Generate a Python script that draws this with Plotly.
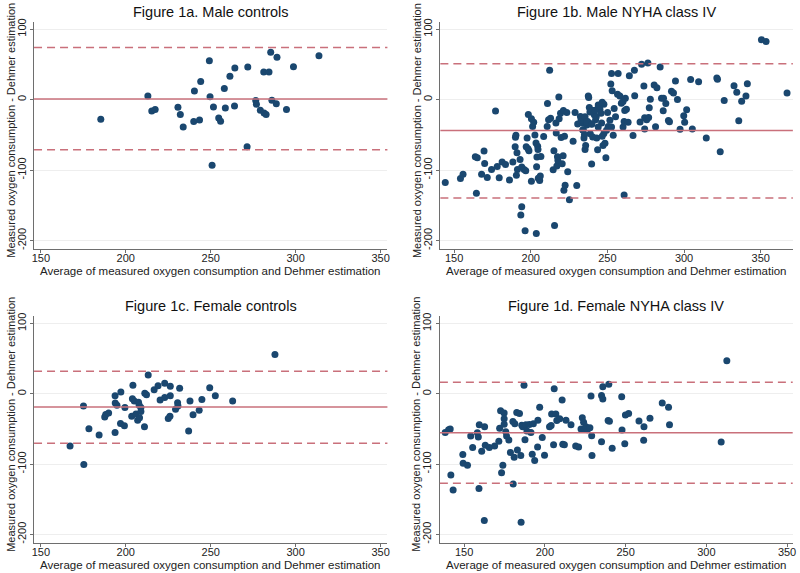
import plotly.graph_objects as go

# ---------------- data ----------------
panel_titles = ["Figure 1a. Male controls", "Figure 1b. Male NYHA class IV",
                "Figure 1c. Female controls", "Figure 1d. Female NYHA class IV"]
x_title = "Average of measured oxygen consumption and Dehmer estimation"
y_title = "Measured oxygen consumption - Dehmer estimation"
x_ticks = [150, 200, 250, 300, 350]
x_tick_labels = ["150", "200", "250", "300", "350"]
y_ticks = [-200, -100, 0, 100]
y_tick_labels = ["-200", "-100", "0", "100"]

# Figure 1a
a_x = [185.3, 213, 215.3, 217.3, 230.7, 232.1, 233.8, 240, 240.4, 243.4, 244.1, 249.2, 249.6,
       251.6, 250.8, 254.7, 255.8, 258, 258.6, 261.3, 264.2, 264, 271.4, 271.8, 276.5, 276.9,
       279.2, 281.4, 282.6, 281.2, 284.3, 285.3, 286, 288.6, 289, 294.6, 298.7, 313.7]
a_y = [-27.8, 5.2, -16, -14, -10.8, -21, -39, -31, 12.3, -29, 25.5, 55, 4.2,
       -10.4, -93, -26, -30.7, 15.6, -11.8, 33, 44.8, -9, -67, 46.2, -1.4, -6.6,
       -15, -19, -21, 39, 39, 67, -1, -6, 60, -14, 46.7, 62.3]
a_mean, a_upper, a_lower = 1, 74, -71

# Figure 1b
b_x = [144.2, 154.1, 155.8, 164.5, 163.8, 165.1, 169.5, 169.9, 167.9, 171.6, 174.4, 177, 178.1,
       179.4, 181.3, 183.5, 186.1, 188.3, 189.8, 190, 190.3, 191, 191.3, 190.6, 193, 194.1,
       193.5, 194.1, 195.6, 196.3, 196.7, 197.6, 197, 198.2, 198.8, 198.4, 200.4, 200.4, 201.2,
       201.9, 202.7, 203.4, 203.6, 203.8, 204, 204.5, 204.7, 204.9, 205.8, 206.2, 206.6, 208.4,
       210.9, 212.3, 212.9, 211.6, 210.7, 215.1, 214.6, 215.5, 216.4, 216.6, 217, 217.4, 217.7,
       218.3, 218.5, 219.4, 219.8, 220.5, 221.1, 221.3, 222, 221.6, 222.4, 223.5, 224.1, 225.2,
       227.6, 228.9, 230, 230.6, 232.4, 233.9, 234.3, 234.7, 235.4, 235.8, 236.5, 237.1, 237.5,
       238.2, 238.8, 239.7, 239.9, 240.4, 241.4, 242.3, 243, 243.6, 244, 245.1, 245.8, 246.2,
       246.6, 247.1, 247.7, 249, 250.1, 250.5,
       232.8, 233.9, 235, 235.4, 236.5, 237.8, 238.6, 239.7, 240.4, 241.9, 242.7, 244, 244.9,
       246.6, 247.7, 248.4, 249.4, 251.6, 252.7, 253.8, 254.4, 255.3,
       252.2, 253.1, 252.7, 257, 256.6, 258.1, 259.1, 260.2, 261.7, 261.3, 262.4, 260.9, 260.2,
       263.5, 266.7, 260.9, 264.3, 267.6, 267.8, 272.3, 276.4, 273.8, 271.3, 274.3, 274.3, 275.6,
       276.9, 277.3, 278, 280.5, 282.3, 281.4, 284.4, 285.3, 286.6, 286.4, 288.1, 289.8, 290.5,
       291.8, 293.1, 294.4, 295.7, 297.4, 299.8, 300.4, 301.7, 304.3, 305.4, 309.5, 314.5, 321.4,
       321.8, 323.6, 326.2, 332.6, 334.4, 335.7, 337.6, 340.4, 341.3, 350.5, 353.5, 367.2]
b_y = [-117.7, -112, -106, -133, -81, -82.5, -73, -90.5, -106, -110.6, -99, -16, -95,
       -111, -88.6, -92, -114, -88.6, -67, -53.4, -50.6, -75.5, -99, -107.4, -84.9, -152,
       -163.6, -95.6, -99, -186, -101, -54.4, -67, -69.9, -72.7, -21, -115.8, -27.2, -38,
       -32.3, -50.2, -61.4, -189.9, -95.2, -81.6, -66.1, -70.8, -111.6, -114.9, -108.3, -80.6, -52.5,
       -5.6, 41.7, -26.3, -28.6, -38, -72.7, -99.4, -178.6, -33.3, -47.4, -94.2, -81.1, -86.3,
       3.8, -27.2, -19.2, -53.9, -90.9, -79.7, -15.5, -52, -128.5, -121.4, -18.3, -102.2, -142,
       -59, -18.3, -121.9, -34.7, -23.9, -33.3, -42.7, -54.4, -70.8, -65.2, -36.1, -30.9, 5.2,
       -11.3, -48.3, -91.4, -34.2, -15.5, -21.6, -28.6, -54.4, -71.3, -7.5, -13.6, -19.2, -33.3,
       -52, -65.2, -6.6, -82.5, -18.3, -38,
       -29, -43, -50, -24.5, -31.6, 2.8, -17.5, -35, -53, -15, -24.5, -38.7, -9,
       -3.8, -48, -62, -43.4, -29.2, -38.7, -50.5, -12.7, -24.5,
       22, 12.7, 37, 37, 7.5, 5.2, -5.2, -2.8, 1.9, -15.5, -13.6, -30.9, -38.9,
       -32.3, -51.1, -135.5, 33.8, 41.7, 5.6, 50.2, 52, 19.2, -31.9, -25.8, -41.7, -28.6,
       -25.3, -11.7, 0.5, 20.6, 16.9, -38.4, 46.4, 1.9, 1.9, -15.9, -5.6, -29.5, -31.4,
       11.7, 9.4, 26.3, 0, -42.2, -23, -32.3, -14.5, 28.6, -41.7, 25.3, -54.4, 30.5,
       29, -74.1, -1.4, 19.7, 10.3, -30, -2.3, 5.2, 22.5, 85, 82.5, 9.4]
b_mean, b_upper, b_lower = -44, 51, -139.5

# Figure 1c
c_x = [167.2, 175.1, 175.3, 178.3, 184.3, 187.6, 188.2, 189.9, 193.7, 193.8, 194.8, 193.7, 197.1,
       196.9, 199.2, 199.5, 204.2, 203.9, 205, 203.5, 206, 207, 207.5, 207.9, 208.9, 208.9, 208.1,
       211.2, 212.2, 211, 213.2, 216.7, 219, 220.2, 222.9, 222.9, 225, 226, 226.2, 226.2, 229.3,
       230.5, 230.7, 231.7, 237, 237.8, 239.6, 243.2, 244.8, 249.4, 252.7, 262.9, 287.8]
c_y = [-74.3, -17.4, -100.6, -49.8, -58.8, -33, -29.6, -27.3, -2.8, -13, -16.5, -55, 2.4,
       -42.3, -45.6, -19.7, 12.2, -7, -10.3, -32, -28.7, -37.6, -12.2, -16.5, -19.7, -25.4, -34.3,
       0.9, -1.4, -47, 26.8, 5.6, 11.3, -8.9, 15, -5.2, -35.3, -32, -2.8, 10.8, -22,
       -12.7, -17.4, 8, -53, -10.3, -30, -23.5, -8, 8.5, -2.8, -10.3, 56]
c_mean, c_upper, c_lower = -18.8, 32, -70.5

# Figure 1d
d_x = [138.3, 140.4, 141.4, 141.8, 143.2, 149.2, 149.4, 152.1, 154.1, 155.3, 158.2, 158.8, 159.4,
       159.2, 160.9, 162.5, 162.7, 163.1, 165.6, 168.9, 171.5, 172, 172.6, 174, 173.2, 174.8, 174.8,
       174.8, 175.8, 176.3, 177.7, 178.7, 180.2, 181, 180.4, 181.4, 182.6, 183, 184.3, 185.1, 185.3,
       185.7, 186.3, 187.1, 187.7, 188.3, 188.9, 190.4, 191.4, 192.2, 192.9, 193.7, 195.5, 195.7,
       196.8, 198.4, 199.8, 202.9, 203.9, 204.2, 205.4, 205.8, 206.8, 207.4, 209.2, 210.7, 211.1,
       212.1, 213.1, 216.2, 219.1, 220.9, 222.4, 223.2, 224, 224.5, 225.5, 226.3, 227.9, 228.6,
       229, 229.2, 235.1, 235.1, 235.9, 235.9, 239.6, 239.2, 240, 241.7, 247.6, 247.8, 249.5,
       249.9, 251.9, 258.3, 261.4, 261.2, 265.1, 272.7, 276.6, 277.2, 309.2, 312.7]
d_y = [-55, -51.2, -50.3, -115.7, -136.8, -86.5, -98.7, -101.6, -60.2, -76.6, -55.5, -61.6, -44.2,
       -134.9, -81.8, -180.5, -47, -73.3, -76.6, -74.3, -67.7, -48.9, -24, -101.6, -112.4, -27.3, -35.7,
       -43.3, -54, -60.2, -65.8, -83.7, -39.5, -90.3, -128.4, -42.8, -26.8, -79.9, -28.2, -87.9, -182.9,
       -44.7, -47, 12.2, -65.4, -44.2, -53.1, -43.7, -55, -86, -42.8, -95, -75.7, -37.6,
       -19.3, -62.1, -87.4, -47, -45.1, -28.7, -72.4, 7, -28.7, -38.1, -35.7, -8.9, -71.9,
       -72.4, -37.6, -44.2, -74.3, -75.7, -50.3, -34.3, -40.4, -49.8, -47, -51.2, -48.4, -3.3,
       -59.7, -87.9, -68.2, -2.4, -7.5, 9.9, 13.6, -38.1, -39, -77.6, -4.2, -51.7, -71,
       -30.1, -28.2, -38.6, -47, -66.3, -34.8, -13.2, -19.3, -44.2, -68.6, 47]
d_mean, d_upper, d_lower = -55.5, 16.5, -127.5

panels = [
    dict(x=a_x, y=a_y, lines=(a_mean, a_upper, a_lower), xr=[146, 354], xd=[0.0403, 0.4848], yd=[0.5686, 0.9682]),
    dict(x=b_x, y=b_y, lines=(b_mean, b_upper, b_lower), xr=[141, 371], xd=[0.5514, 0.9948], yd=[0.5686, 0.9682]),
    dict(x=c_x, y=c_y, lines=(c_mean, c_upper, c_lower), xr=[146, 354], xd=[0.0403, 0.4848], yd=[0.0515, 0.4499]),
    dict(x=d_x, y=d_y, lines=(d_mean, d_upper, d_lower), xr=[135, 353.5], xd=[0.5508, 0.9946], yd=[0.0515, 0.4499]),
]

W, H = 800, 573
FONT = "Liberation Sans, Arial, Helvetica, sans-serif"
navy = "#1a476f"
line_col = "#c9707b"
axis_col = "#6e6e6e"

fig = go.Figure()
layout = dict(width=W, height=H, margin=dict(l=0, r=0, t=0, b=0),
              paper_bgcolor="white", plot_bgcolor="white", showlegend=False,
              font=dict(family=FONT, color="#222222"))
shapes = []
annotations = []

for i, p in enumerate(panels):
    n = "" if i == 0 else str(i + 1)
    xa, ya = "x" + n, "y" + n
    fig.add_trace(go.Scatter(x=p["x"], y=p["y"], mode="markers", xaxis=xa, yaxis=ya,
                             marker=dict(color=navy, size=7, line=dict(width=0)),
                             hoverinfo="x+y"))
    layout["xaxis" + n] = dict(domain=p["xd"], range=p["xr"], anchor=ya, tickvals=x_ticks,
                               ticktext=x_tick_labels,
                               showgrid=False, zeroline=False, showline=True, linecolor=axis_col,
                               linewidth=1, ticks="outside", ticklen=3, tickcolor=axis_col,
                               ticklabelstandoff=-4,
                               tickfont=dict(size=11, family=FONT, color="#222"))
    layout["yaxis" + n] = dict(domain=p["yd"], range=[-212, 110], anchor=xa, tickvals=y_ticks,
                               ticktext=y_tick_labels,
                               showgrid=True, gridcolor="#eeeeee", gridwidth=1, zeroline=False,
                               showline=True, linecolor=axis_col, linewidth=1, ticks="outside",
                               ticklen=3, tickcolor=axis_col, tickangle=-90,
                               tickfont=dict(size=11, family=FONT, color="#222"))
    mean, up, lo = p["lines"]
    for val, dash in ((up, "8px,5px"), (lo, "8px,5px"), (mean, "solid")):
        shapes.append(dict(type="line", xref=xa + " domain", yref=ya, x0=0, x1=1, y0=val, y1=val,
                           line=dict(color=line_col, width=1.5, dash=dash)))
    xc = (p["xd"][0] + p["xd"][1]) / 2
    top = p["yd"][1]
    bottom = p["yd"][0]
    # panel title
    annotations.append(dict(text=panel_titles[i], xref="paper", yref="paper", x=xc,
                            y=top + 10.5 / H, xanchor="center", yanchor="middle", showarrow=False,
                            font=dict(size=14.5, family=FONT, color="#111")))
    # x axis title
    annotations.append(dict(text=x_title, xref="paper", yref="paper", x=xc,
                            y=bottom - 22 / H, xanchor="center", yanchor="middle", showarrow=False,
                            font=dict(size=11.5, family=FONT, color="#222")))
    # y axis title
    annotations.append(dict(text=y_title, xref="paper", yref="paper", x=p["xd"][0] - 24 / W,
                            y=(top + bottom) / 2 + 5 / H, xanchor="center", yanchor="middle",
                            textangle=-90, showarrow=False,
                            font=dict(size=11, family=FONT, color="#222")))

layout["shapes"] = shapes
layout["annotations"] = annotations
fig.update_layout(**layout)
fig.write_html("out.html", config={"displayModeBar": False},
               post_script="document.body.style.margin='0';document.body.style.overflow='hidden';")
